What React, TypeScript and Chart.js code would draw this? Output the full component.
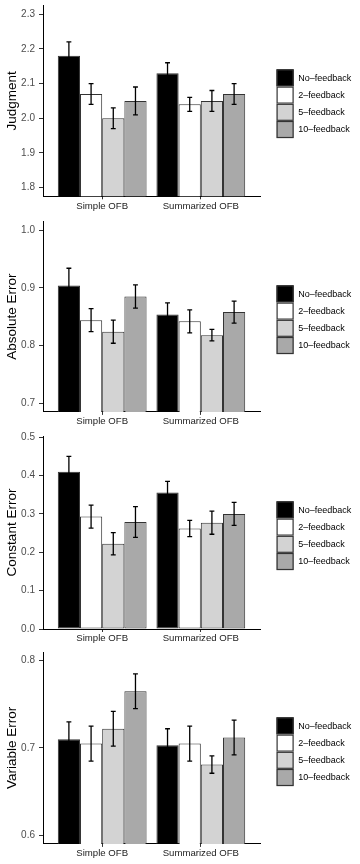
import React, { useEffect, useRef } from 'react';
import { Chart, registerables } from 'chart.js';

Chart.register(...registerables);
Chart.defaults.font.family = '"Liberation Sans", Arial, Helvetica, sans-serif';

// ---- data ----
const categories = ['Simple OFB', 'Summarized OFB'];
const seriesLabels = ['No–feedback', '2–feedback', '5–feedback', '10–feedback'];
const seriesFill = ['#000000', '#ffffff', '#d3d3d3', '#a9a9a9'];

// rows = series, columns = categories
const judgmentMean = [[2.18, 2.13], [2.07, 2.04], [2.0, 2.05], [2.05, 2.07]];
const judgmentErr = [[0.04, 0.03], [0.03, 0.02], [0.03, 0.03], [0.04, 0.03]];
const judgmentTicks = [1.8, 1.9, 2.0, 2.1, 2.2, 2.3];

const absErrMean = [[0.904, 0.854], [0.844, 0.842], [0.824, 0.818], [0.885, 0.858]];
const absErrErr = [[0.03, 0.02], [0.02, 0.02], [0.02, 0.01], [0.02, 0.019]];
const absErrTicks = [0.7, 0.8, 0.9, 1.0];

const constErrMean = [[0.41, 0.356], [0.293, 0.262], [0.222, 0.277], [0.279, 0.3]];
const constErrErr = [[0.04, 0.029], [0.03, 0.021], [0.029, 0.03], [0.04, 0.03]];
const constErrTicks = [0.0, 0.1, 0.2, 0.3, 0.4, 0.5];

const varErrMean = [[0.71, 0.703], [0.705, 0.705], [0.722, 0.681], [0.765, 0.712]];
const varErrErr = [[0.02, 0.019], [0.02, 0.02], [0.02, 0.01], [0.02, 0.02]];
const varErrTicks = [0.6, 0.7, 0.8];

const CANVAS_W = 360;
const CANVAS_H = 216;

const errorBarPlugin = {
  id: 'errorBars',
  afterDatasetsDraw(chart: any) {
    const ctx = chart.ctx;
    const yScale = chart.scales.y;
    ctx.save();
    ctx.strokeStyle = '#000';
    ctx.lineWidth = 1.3;
    chart.data.datasets.forEach((ds: any, di: number) => {
      const meta = chart.getDatasetMeta(di);
      meta.data.forEach((bar: any, i: number) => {
        const m = ds.data[i].y;
        const e = ds.errors[i];
        const x = bar.x;
        const yHi = yScale.getPixelForValue(m + e);
        const yLo = yScale.getPixelForValue(m - e);
        const half = bar.width * 0.11;
        ctx.beginPath();
        ctx.moveTo(x, yHi);
        ctx.lineTo(x, yLo);
        ctx.moveTo(x - half, yHi);
        ctx.lineTo(x + half, yHi);
        ctx.moveTo(x - half, yLo);
        ctx.lineTo(x + half, yLo);
        ctx.stroke();
      });
    });
    ctx.restore();
  },
};

const keyLegendPlugin = {
  id: 'keyLegend',
  afterDraw(chart: any) {
    const ctx = chart.ctx;
    const x0 = chart.chartArea.right + 16.5;
    const top = 69.3;
    const size = 17.2;
    ctx.save();
    chart.data.datasets.forEach((ds: any, i: number) => {
      const yy = top + i * size;
      ctx.fillStyle = ds.backgroundColor;
      ctx.fillRect(x0, yy, size, size);
      ctx.strokeStyle = '#333';
      ctx.lineWidth = 1.2;
      ctx.strokeRect(x0 + 0.6, yy + 0.6, size - 1.2, size - 1.2);
      ctx.fillStyle = '#000';
      ctx.font = '9px "Liberation Sans", Arial, sans-serif';
      ctx.textBaseline = 'middle';
      ctx.textAlign = 'left';
      ctx.fillText(ds.label, x0 + size + 4.5, yy + size / 2 + 0.5);
    });
    ctx.restore();
  },
};

type PanelProps = {
  title: string;
  means: number[][];
  errors: number[][];
  yTicks: number[];
  yMin: number;
  yMax: number;
  top: number;
  bottom: number;
};

function Panel({ title, means, errors, yTicks, yMin, yMax, top, bottom }: PanelProps) {
  const ref = useRef<HTMLCanvasElement | null>(null);
  useEffect(() => {
    if (!ref.current) return;
    const chart = new Chart(ref.current, {
      type: 'bar',
      data: {
        datasets: seriesLabels.map((label, s) => ({
          label,
          data: categories.map((_, c) => ({ x: c + 1, y: means[s][c] })),
          errors: errors[s],
          backgroundColor: seriesFill[s],
          borderColor: '#333333',
          borderWidth: 1,
          borderSkipped: false,
          categoryPercentage: 0.9,
          barPercentage: 1,
        })) as any,
      },
      options: {
        animation: false,
        responsive: false,
        devicePixelRatio: 1,
        layout: { padding: { top, right: CANVAS_W - 260, left: 0, bottom: 0 } },
        plugins: { legend: { display: false }, tooltip: { enabled: false } },
        scales: {
          x: {
            type: 'linear',
            offset: false,
            min: 0.4,
            max: 2.6,
            bounds: 'data',
            afterDataLimits: (s: any) => {
              s.min = 0.4;
              s.max = 2.6;
            },
            afterBuildTicks: (s: any) => {
              s.ticks = categories.map((_, i) => ({ value: i + 1 }));
              s.min = 0.4;
              s.max = 2.6;
            },
            afterFit: (s: any) => {
              s.height = CANVAS_H - bottom;
              s.paddingLeft = 0;
              s.paddingRight = 0;
            },
            ticks: {
              callback: (v: any) => categories[Math.round(v) - 1] ?? '',
              font: { size: 9.6 },
              color: '#222',
              padding: 1,
              maxRotation: 0,
              autoSkip: false,
            },
            grid: {
              display: true,
              offset: false,
              drawOnChartArea: false,
              drawTicks: true,
              tickLength: 3,
              tickColor: '#333',
              tickWidth: 1,
            },
            border: { display: true, color: '#000', width: 1 },
          },
          y: {
            type: 'linear',
            min: yMin,
            max: yMax,
            afterBuildTicks: (s: any) => {
              s.ticks = yTicks.map((v) => ({ value: v }));
            },
            afterFit: (s: any) => {
              s.width = 43;
              s.paddingTop = 0;
              s.paddingBottom = 0;
            },
            ticks: {
              callback: (v: any) => Number(v).toFixed(1),
              font: { size: 10 },
              color: '#4d4d4d',
              padding: 4,
              autoSkip: false,
            },
            grid: {
              display: true,
              drawOnChartArea: false,
              drawTicks: true,
              tickLength: 4,
              tickColor: '#333',
              tickWidth: 1,
            },
            border: { display: true, color: '#000', width: 1 },
            title: {
              display: true,
              text: title,
              color: '#000',
              font: { size: 13.5 },
              padding: { top: 4, bottom: 0 },
            },
          },
        },
      },
      plugins: [errorBarPlugin, keyLegendPlugin],
    } as any);
    return () => chart.destroy();
  }, []);
  return <canvas ref={ref} width={CANVAS_W} height={CANVAS_H} style={{ display: 'block' }} />;
}

export default function App() {
  useEffect(() => {
    document.body.style.margin = '0';
  }, []);
  return (
    <div style={{ width: CANVAS_W, background: '#fff' }}>
      <Panel title="Judgment" means={judgmentMean} errors={judgmentErr} yTicks={judgmentTicks} yMin={1.775} yMax={2.325} top={5.5} bottom={196.3} />
      <Panel title="Absolute Error" means={absErrMean} errors={absErrErr} yTicks={absErrTicks} yMin={0.685} yMax={1.015} top={5.5} bottom={195.9} />
      <Panel title="Constant Error" means={constErrMean} errors={constErrErr} yTicks={constErrTicks} yMin={0} yMax={0.503} top={4} bottom={197} />
      <Panel title="Variable Error" means={varErrMean} errors={varErrErr} yTicks={varErrTicks} yMin={0.59} yMax={0.81} top={4} bottom={195.9} />
    </div>
  );
}
